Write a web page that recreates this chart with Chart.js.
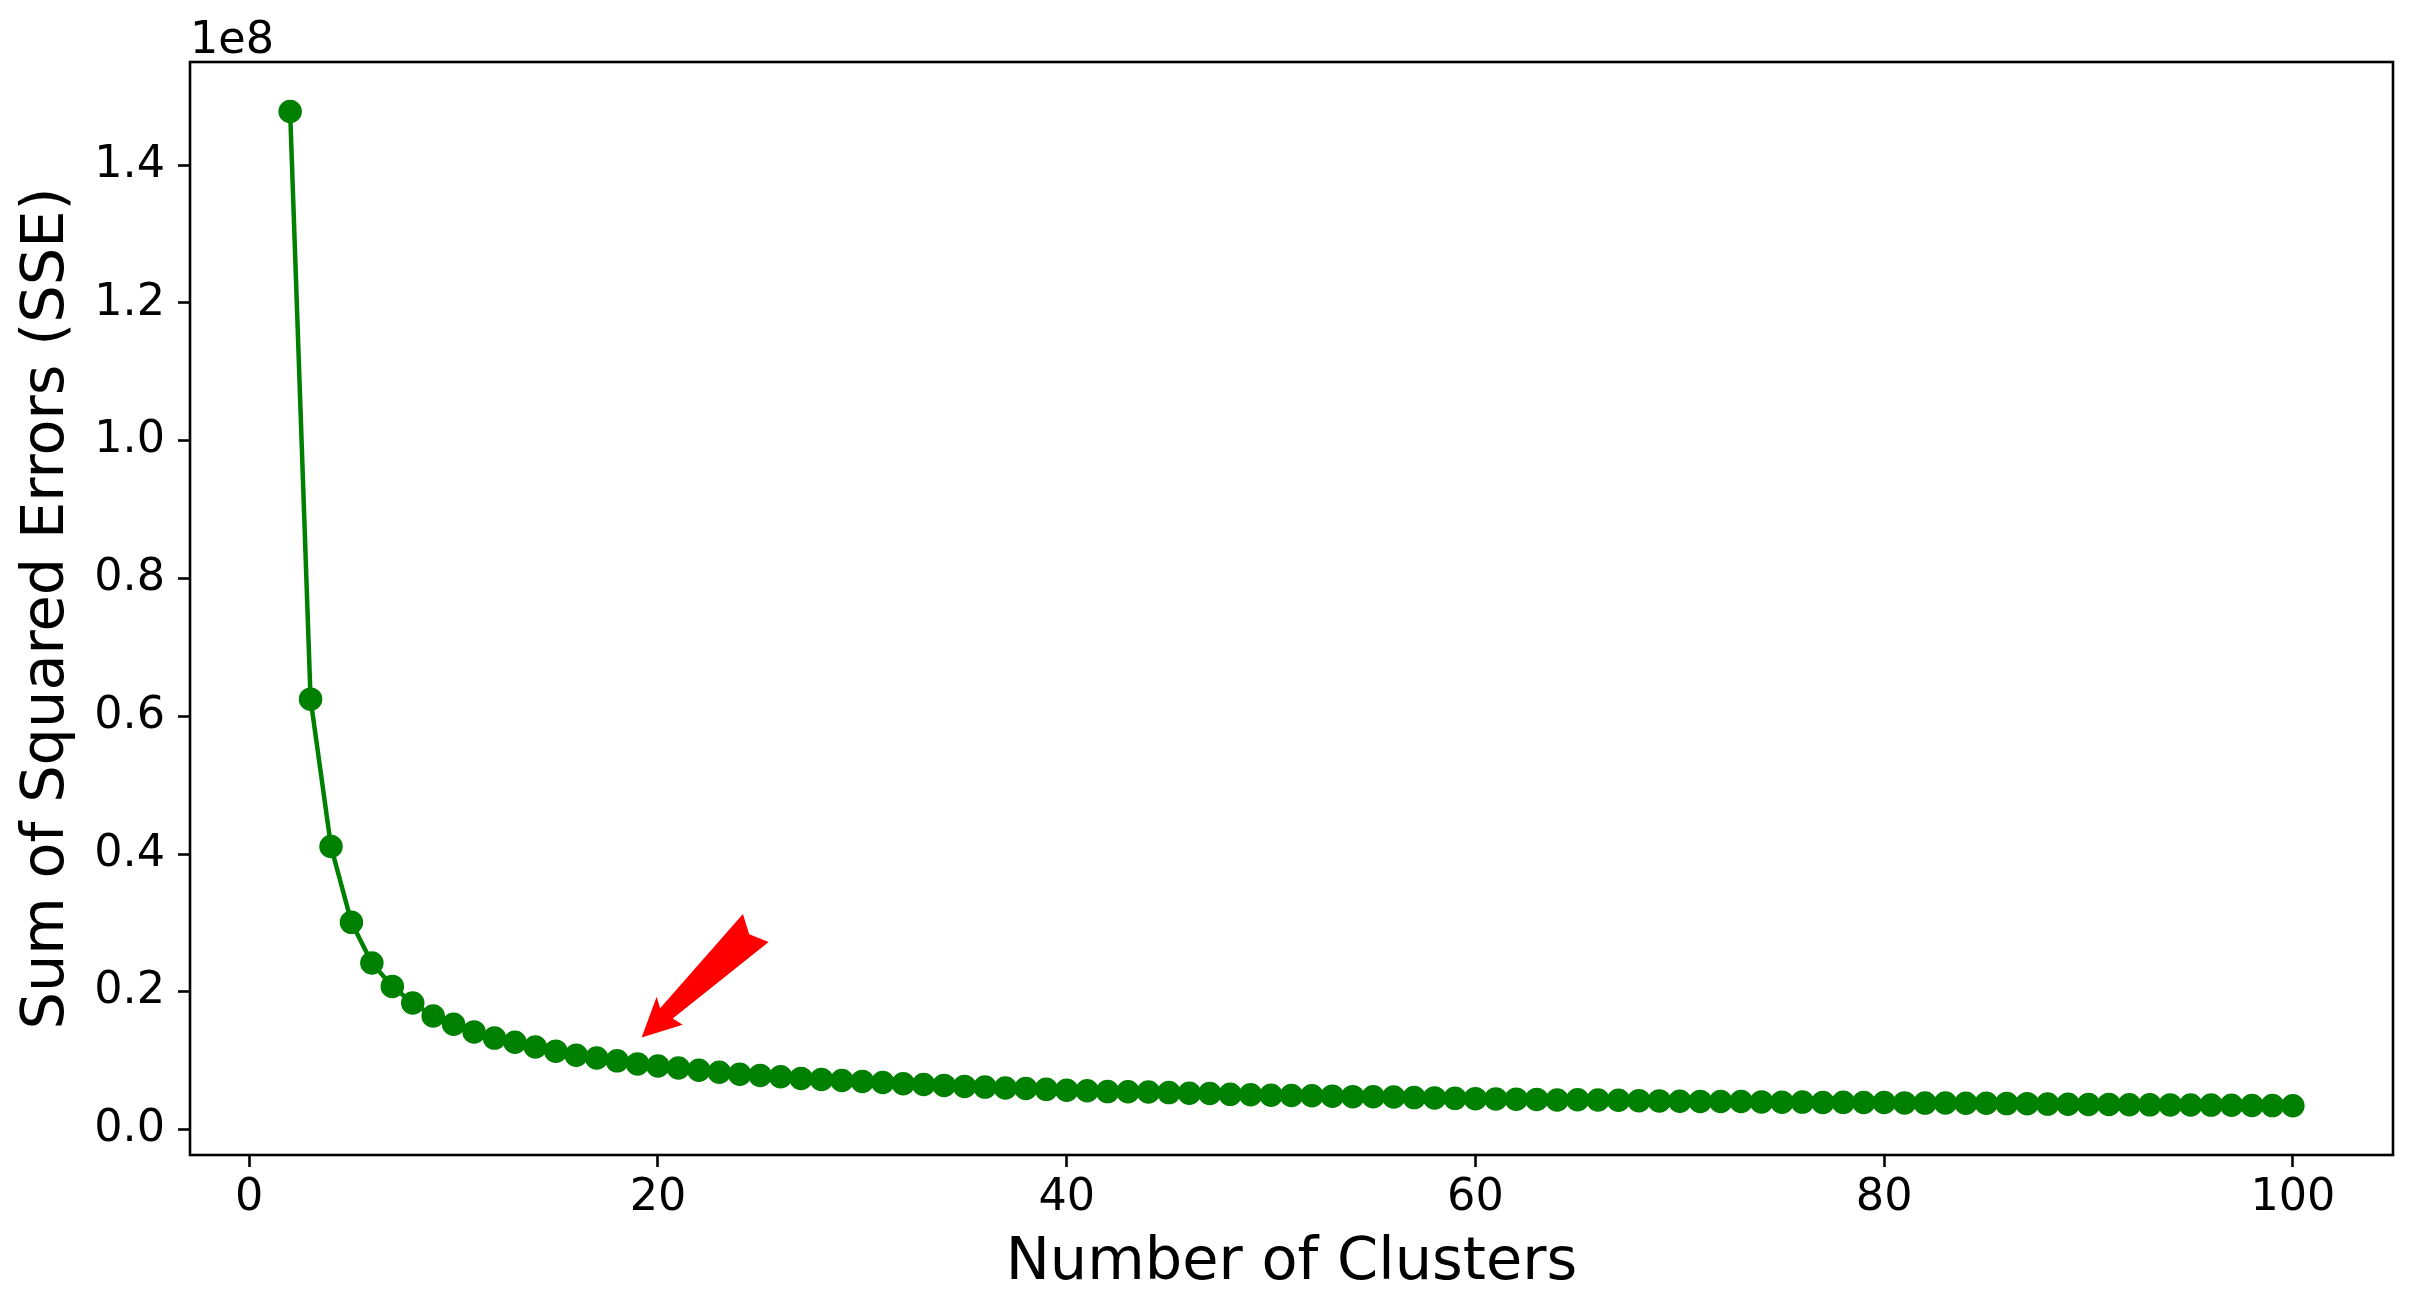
<!DOCTYPE html>
<html>
<head>
<meta charset="utf-8">
<script src="https://cdn.jsdelivr.net/npm/chart.js@4.4.1/dist/chart.umd.min.js"></script>
<style>
  html, body { margin: 0; padding: 0; background: #fff; }
  canvas { display: block; }
</style>
</head>
<body>
<canvas id="sse-Chart" width="2414" height="1302" style="width:2414px;height:1302px"></canvas>
<script>
// クラスタ数
const clusters = [
  2, 3, 4, 5, 6, 7, 8, 9, 10, 11, 12, 13, 14, 15, 16, 17, 18, 19, 20, 21,
  22, 23, 24, 25, 26, 27, 28, 29, 30, 31, 32, 33, 34, 35, 36, 37, 38, 39, 40, 41,
  42, 43, 44, 45, 46, 47, 48, 49, 50, 51, 52, 53, 54, 55, 56, 57, 58, 59, 60, 61,
  62, 63, 64, 65, 66, 67, 68, 69, 70, 71, 72, 73, 74, 75, 76, 77, 78, 79, 80, 81,
  82, 83, 84, 85, 86, 87, 88, 89, 90, 91, 92, 93, 94, 95, 96, 97, 98, 99, 100,
];
// SSE (単位 1e8)
const sseE8 = [
  1.478, 0.625, 0.411, 0.301, 0.242, 0.208, 0.184, 0.165, 0.153, 0.142,
  0.133, 0.127, 0.120, 0.114, 0.108, 0.104, 0.100, 0.0955, 0.0925, 0.0895,
  0.0863, 0.0834, 0.0805, 0.0788, 0.0769, 0.0745, 0.0730, 0.0715, 0.0701, 0.0686,
  0.0668, 0.0657, 0.0643, 0.0629, 0.0619, 0.0606, 0.0599, 0.0586, 0.0572, 0.0566,
  0.0553, 0.0551, 0.0547, 0.0539, 0.0530, 0.0526, 0.0513, 0.0508, 0.0500, 0.0497,
  0.0493, 0.0487, 0.0480, 0.0479, 0.0474, 0.0466, 0.0462, 0.0455, 0.0451, 0.0447,
  0.0444, 0.0440, 0.0432, 0.0434, 0.0432, 0.0428, 0.0422, 0.0418, 0.0414, 0.0411,
  0.0410, 0.0409, 0.0404, 0.0400, 0.0401, 0.0396, 0.0397, 0.0396, 0.0395, 0.0389,
  0.0386, 0.0387, 0.0385, 0.0384, 0.0379, 0.0378, 0.0372, 0.0369, 0.0366, 0.0367,
  0.0362, 0.0361, 0.0360, 0.0358, 0.0357, 0.0355, 0.0352, 0.0350, 0.0348,
];
const sse = sseE8.map((v) => v * 1e8);

// 目盛り
const xTicks = [0, 20, 40, 60, 80, 100];
const yTicks = [0, 0.2e8, 0.4e8, 0.6e8, 0.8e8, 1.0e8, 1.2e8, 1.4e8];

// 矢印（データ座標）
const arrowTip = [19.2, 0.134e8];
const arrowTail = [24.9, 0.296e8];

document.addEventListener("DOMContentLoaded", () => {
  const ctx = document.getElementById("sse-Chart");
  if (!ctx) {
    console.error("Canvas element not found");
    return;
  }

  // 枠線・オフセット表記・矢印
  const decorPlugin = {
    id: "decor",
    afterDraw(chart) {
      const { ctx, chartArea: area, scales } = chart;
      ctx.save();

      // 赤い矢印
      const tx = scales.x.getPixelForValue(arrowTip[0]);
      const ty = scales.y.getPixelForValue(arrowTip[1]);
      const ex = scales.x.getPixelForValue(arrowTail[0]);
      const ey = scales.y.getPixelForValue(arrowTail[1]);
      const len = Math.hypot(ex - tx, ey - ty);
      const ux = (ex - tx) / len, uy = (ey - ty) / len;
      const vx = -uy, vy = ux;
      const shape = [
        [0, 0], [39, -19], [33.5, -8.2], [158.5, -19],
        [149, 0], [157.7, 19], [35.5, 7.9], [38.5, 19.2],
      ];
      ctx.beginPath();
      shape.forEach(([a, b], i) => {
        const px = tx + ux * a + vx * b;
        const py = ty + uy * a + vy * b;
        if (i === 0) ctx.moveTo(px, py);
        else ctx.lineTo(px, py);
      });
      ctx.closePath();
      ctx.fillStyle = "#ff0000";
      ctx.fill();

      // 枠
      ctx.strokeStyle = "#000";
      ctx.lineWidth = 2.6;
      ctx.strokeRect(area.left, area.top, area.right - area.left, area.bottom - area.top);

      // 1e8
      ctx.fillStyle = "#000";
      ctx.font = "44.5px 'DejaVu Sans'";
      ctx.textAlign = "left";
      ctx.textBaseline = "alphabetic";
      ctx.fillText("1e8", area.left, area.top - 9);
      ctx.restore();
    },
  };

  new Chart(ctx, {
    type: "line",
    data: {
      datasets: [
        {
          data: clusters.map((k, i) => ({ x: k, y: sse[i] })),
          borderColor: "#008000",
          backgroundColor: "#008000",
          borderWidth: 4.5,
          pointRadius: 11,
          pointBorderWidth: 1.5,
          pointBorderColor: "#008000",
          pointBackgroundColor: "#008000",
          tension: 0,
          fill: false,
          clip: false,
        },
      ],
    },
    options: {
      responsive: false,
      devicePixelRatio: 1,
      animation: false,
      layout: { padding: { top: 62, right: 21, left: 0, bottom: 0 } },
      plugins: {
        legend: { display: false },
        tooltip: { enabled: false },
      },
      scales: {
        x: {
          type: "linear",
          min: -2.9,
          max: 104.9,
          afterBuildTicks: (scale) => {
            scale.ticks = xTicks.map((v) => ({ value: v }));
          },
          afterFit: (scale) => {
            scale.height = 147;
          },
          border: { display: false },
          grid: {
            display: true,
            drawOnChartArea: false,
            drawTicks: true,
            tickLength: 12,
            tickWidth: 2.6,
            tickColor: "#000",
          },
          ticks: {
            color: "#000",
            padding: 9,
            maxRotation: 0,
            font: { family: "'DejaVu Sans'", size: 44.5, lineHeight: 1 },
            callback: (v) => String(v),
          },
          title: {
            display: true,
            text: "Number of Clusters",
            color: "#000",
            padding: { top: 0, bottom: 9 },
            font: { family: "'DejaVu Sans'", size: 59, lineHeight: 1 },
          },
        },
        y: {
          type: "linear",
          min: -0.0367e8,
          max: 1.5498e8,
          afterBuildTicks: (scale) => {
            scale.ticks = yTicks.map((v) => ({ value: v }));
          },
          afterFit: (scale) => {
            scale.width = 190;
          },
          border: { display: false },
          grid: {
            display: true,
            drawOnChartArea: false,
            drawTicks: true,
            tickLength: 12,
            tickWidth: 2.6,
            tickColor: "#000",
          },
          ticks: {
            color: "#000",
            padding: 13,
            font: { family: "'DejaVu Sans'", size: 44.5, lineHeight: 1 },
            callback: (v) => (v / 1e8).toFixed(1),
          },
          title: {
            display: true,
            text: "Sum of Squared Errors (SSE)",
            color: "#000",
            padding: { top: 18, bottom: 0 },
            font: { family: "'DejaVu Sans'", size: 59, lineHeight: 1 },
          },
        },
      },
    },
    plugins: [decorPlugin],
  });
});
</script>
</body>
</html>
